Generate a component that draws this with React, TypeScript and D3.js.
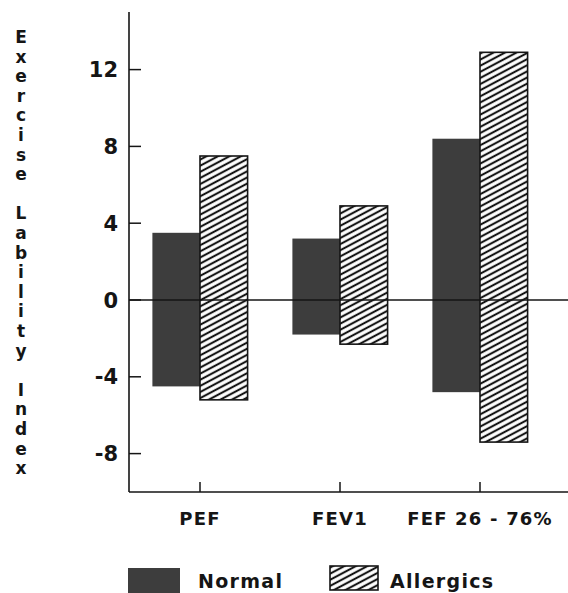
import * as d3 from 'd3'

const W = 568
const H = 593

// measures on the x axis
const categories = ['PEF', 'FEV1', 'FEF 26 - 76%']

// floating bars: low / high of the lability index
const normalHigh = [3.5, 3.2, 8.4]
const normalLow = [-4.5, -1.8, -4.8]
const allergicHigh = [7.5, 4.9, 12.9]
const allergicLow = [-5.2, -2.3, -7.4]

const yTicks = [-8, -4, 0, 4, 8, 12]
const yTitleWords = ['Exercise', 'Lability', 'Index']
const seriesNames = ['Normal', 'Allergics']

const FONT = '"DejaVu Sans", "Liberation Sans", sans-serif'
const DARK = '#3d3d3d'
const INK = '#151515'

export default function App() {
  const x = d3.scaleBand<string>()
    .domain(categories)
    .range([130, 550])
    .paddingInner(0.32)
    .paddingOuter(0.16)

  const sub = d3.scaleBand<string>()
    .domain(seriesNames)
    .range([0, x.bandwidth()])

  const y = d3.scaleLinear().domain([-10, 15]).range([492, 12])

  const rows = categories.map((c, i) => ({
    cat: c,
    normal: [normalLow[i], normalHigh[i]],
    allergic: [allergicLow[i], allergicHigh[i]],
  }))

  // letters of the vertical y title, with a blank line between words
  const letters: string[] = []
  yTitleWords.forEach((w, i) => {
    if (i > 0) letters.push('')
    letters.push(...w.split(''))
  })

  const base = y(-10)
  const axisLeft = 129

  return (
    <svg
      width={W}
      height={H}
      style={{ position: 'absolute', left: 0, top: 0, background: '#fff' }}
      fontFamily={FONT}
      fontWeight="bold"
    >
      <defs>
        <pattern id="hatch" width={8} height={5.4} patternUnits="userSpaceOnUse" patternTransform="rotate(-28)">
          <rect width={8} height={5.4} fill="#fff" />
          <line x1={0} y1={2.7} x2={8} y2={2.7} stroke={INK} strokeWidth={2.1} />
        </pattern>
      </defs>

      {/* y title, one letter per line */}
      {letters.map((ch, i) => (
        <text key={i} x={21} y={43 + i * 19.6} textAnchor="middle" fontSize={17} fill={INK}>
          {ch}
        </text>
      ))}

      {/* bars */}
      {rows.map((r) => {
        const gx = x(r.cat) ?? 0
        return (
          <g key={r.cat}>
            <rect
              x={gx + (sub('Normal') ?? 0)}
              y={y(r.normal[1])}
              width={sub.bandwidth()}
              height={y(r.normal[0]) - y(r.normal[1])}
              fill={DARK}
            />
            <rect
              x={gx + (sub('Allergics') ?? 0)}
              y={y(r.allergic[1])}
              width={sub.bandwidth()}
              height={y(r.allergic[0]) - y(r.allergic[1])}
              fill="url(#hatch)"
              stroke={INK}
              strokeWidth={1.6}
            />
          </g>
        )
      })}

      {/* zero line */}
      <line x1={axisLeft} x2={W} y1={y(0)} y2={y(0)} stroke={INK} strokeWidth={1.5} />

      {/* axes */}
      <line x1={axisLeft} x2={axisLeft} y1={y(15)} y2={base} stroke={INK} strokeWidth={1.6} />
      <line x1={axisLeft} x2={W} y1={base} y2={base} stroke={INK} strokeWidth={1.6} />

      {yTicks.map((t) => (
        <g key={t}>
          <line x1={axisLeft} x2={axisLeft + 12} y1={y(t)} y2={y(t)} stroke={INK} strokeWidth={1.5} />
          <text x={118} y={y(t)} dy="0.36em" textAnchor="end" fontSize={21} fill={INK}>
            {t}
          </text>
        </g>
      ))}

      {categories.map((c) => {
        const cx = (x(c) ?? 0) + x.bandwidth() / 2
        return (
          <g key={c}>
            <line x1={cx} x2={cx} y1={base} y2={base - 10} stroke={INK} strokeWidth={1.5} />
            <text x={cx} y={525} textAnchor="middle" fontSize={18} letterSpacing={1.2} fill={INK}>
              {c}
            </text>
          </g>
        )
      })}

      {/* legend */}
      <rect x={128} y={568} width={52} height={30} fill={DARK} />
      <text x={198} y={588} fontSize={19} letterSpacing={1.3} fill={INK}>
        {seriesNames[0]}
      </text>
      <rect x={330} y={566} width={48} height={24} fill="url(#hatch)" stroke={INK} strokeWidth={1.6} />
      <text x={390} y={588} fontSize={19} letterSpacing={1.3} fill={INK}>
        {seriesNames[1]}
      </text>
    </svg>
  )
}
